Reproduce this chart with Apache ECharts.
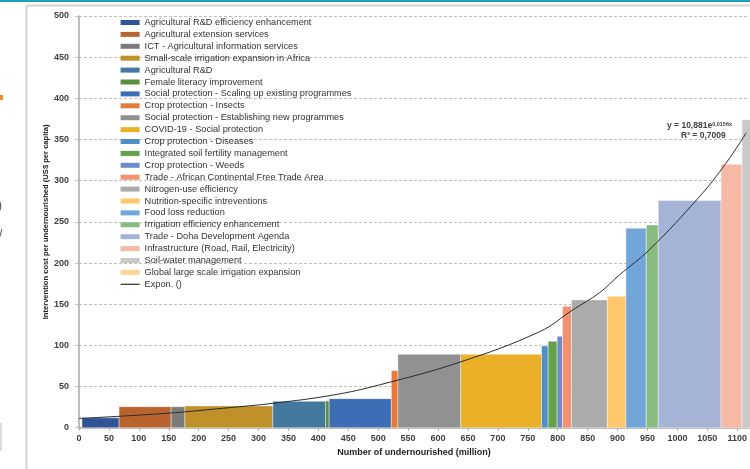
<!DOCTYPE html>
<html>
<head>
<meta charset="utf-8">
<title>Intervention cost per undernourished</title>
<script src="https://cdn.jsdelivr.net/npm/echarts@6/dist/echarts.min.js"></script>
<style>
  html, body { margin: 0; padding: 0; background: #fff; }
  #chart { width: 750px; height: 469px; }
</style>
</head>
<body>
<div id="chart"></div>
<script>
// Interventions, in order of increasing cost per undernourished person
const interventions = [
  'Agricultural R&D efficiency enhancement',
  'Agricultural extension services',
  'ICT - Agricultural information services',
  'Small-scale irrigation expansion in Africa',
  'Agricultural R&D',
  'Female literacy improvement',
  'Social protection - Scaling up existing programmes',
  'Crop protection - Insects',
  'Social protection - Establishing new programmes',
  'COVID-19 - Social protection',
  'Crop protection - Diseases',
  'Integrated soil fertility management',
  'Crop protection - Weeds',
  'Trade - African Continental Free Trade Area',
  'Nitrogen-use efficiency',
  'Nutrition-specific intreventions',
  'Food loss reduction',
  'Irrigation efficiency enhancement',
  'Trade - Doha Development Agenda',
  'Infrastructure (Road, Rail, Electricity)',
  'Soil-water management',
  'Global large scale irrigation expansion'
];

// Cumulative number of undernourished reached (million): bar edges
const boundaries = [5, 67, 154, 177, 324, 412, 418, 522, 533, 638, 773, 784,
                    799, 808, 823, 883, 914, 948, 968, 1073, 1108, 1125];

// Intervention cost per undernourished (US$ per capita)
const costs = [12, 25.5, 25.5, 26.5, 32, 32.5, 35.3, 69.3, 89.2, 89.2, 99.3,
               105, 111, 147.5, 155.2, 159.7, 242.3, 246.3, 275.8, 320, 374];

const barColors = [
  '#2F5597', '#B9632F', '#7B7B7B', '#C0912A', '#43789F', '#5B8F3C',
  '#3D6DB5', '#E47B3A', '#919191', '#EAB027', '#4E8FC6', '#63A14A',
  '#6F8BCB', '#F1936E', '#ABABAB', '#FEC76B', '#72A5D8', '#87BB80',
  '#A5B4D6', '#F6B9A6', '#C9C9C9', '#FFD59A'
];

// Exponential trend line, traced points (million, US$ per capita)
const trendX = [0, 146, 258, 324, 425, 502, 636, 770, 825, 870, 903, 953, 1037, 1081, 1115];
const trendY = [11.2, 17.5, 24.8, 29.6, 39.7, 52, 79.5, 116.7, 143, 164, 185.5, 216, 280.7, 321, 358];

const trendName = 'Expon. ()';

const yTicks = { min: 0, max: 500, step: 50 };
const xTicks = { min: 0, max: 1120, step: 50 };

const textColor = '#404040';
const font = 'Liberation Sans';

function renderBar(params, api) {
  const top = api.coord([api.value(0), api.value(2)]);
  const base = api.coord([api.value(1), 0]);
  return {
    type: 'rect',
    shape: { x: top[0], y: top[1], width: base[0] - top[0], height: base[1] - top[1] },
    style: { fill: api.visual('color'), stroke: 'rgba(255,255,255,0.7)', lineWidth: 0.6 }
  };
}

const series = interventions.map((name, i) => ({
  name: name,
  type: 'custom',
  renderItem: renderBar,
  itemStyle: { color: barColors[i] },
  encode: { x: [0, 1], y: 2 },
  data: i < costs.length ? [[boundaries[i], boundaries[i + 1], costs[i]]] : []
}));

series.push({
  name: trendName,
  type: 'line',
  smooth: 0.4,
  symbol: 'none',
  z: 5,
  lineStyle: { color: '#2B2B2B', width: 1 },
  itemStyle: { color: '#2B2B2B' },
  data: trendX.map((x, i) => [x, trendY[i]])
});

const legendData = interventions.map(n => ({ name: n, icon: 'rect' }));
legendData.push({ name: trendName, itemStyle: { opacity: 0 }, lineStyle: { color: '#2B2B2B', width: 1.2 } });

const chart = echarts.init(document.getElementById('chart'), null, { renderer: 'canvas' });

chart.setOption({
  animation: false,
  backgroundColor: '#fff',
  textStyle: { fontFamily: font },
  grid: { left: 79, right: 0, top: 16, bottom: 41.3 },
  legend: {
    orient: 'vertical',
    left: 120,
    top: 17.5,
    itemWidth: 19,
    itemHeight: 5,
    itemGap: 1.9,
    padding: 0,
    selectedMode: false,
    textStyle: { fontFamily: font, fontSize: 9.2, color: '#333', lineHeight: 10 },
    data: legendData
  },
  xAxis: {
    type: 'value',
    min: xTicks.min,
    max: xTicks.max,
    interval: xTicks.step,
    name: 'Number of undernourished (million)',
    nameLocation: 'middle',
    nameGap: 20,
    nameTextStyle: { fontFamily: font, fontSize: 9, fontWeight: 'bold', color: '#222' },
    axisLine: { show: true, onZero: false, lineStyle: { color: '#A6A6A6', width: 1.5 } },
    axisTick: { show: true, length: 3, lineStyle: { color: '#A6A6A6' } },
    axisLabel: { margin: 6, fontSize: 9, fontWeight: 'bold', color: textColor, showMaxLabel: false,
                 formatter: v => String(v) },
    splitLine: { show: false }
  },
  yAxis: {
    type: 'value',
    min: yTicks.min,
    max: yTicks.max,
    interval: yTicks.step,
    name: 'Intervention cost per undernourished (US$ per capita)',
    nameLocation: 'middle',
    nameGap: 29,
    nameMoveOverlap: false,
    nameTextStyle: { fontFamily: font, fontSize: 7.6, fontWeight: 'bold', color: '#222' },
    axisLine: { show: true, lineStyle: { color: '#A6A6A6', width: 1.5 } },
    axisTick: { show: true, length: 4, lineStyle: { color: '#BFBFBF' } },
    axisLabel: { margin: 10, fontSize: 9, fontWeight: 'bold', color: textColor },
    splitLine: { show: true, lineStyle: { color: '#BFBFBF', type: [3, 2], width: 1 } }
  },
  graphic: [
    // page strip and chart frame
    { type: 'rect', left: 0, top: 0, shape: { width: 750, height: 2 }, style: { fill: '#17A3B3' }, silent: true },
    { type: 'line', shape: { x1: 26.5, y1: 5.5, x2: 750, y2: 5.5 }, style: { stroke: '#D3D3D3', lineWidth: 2 }, silent: true },
    { type: 'line', shape: { x1: 26.5, y1: 5.5, x2: 26.5, y2: 469 }, style: { stroke: '#D3D3D3', lineWidth: 2 }, silent: true },
    // fragments of the neighbouring page column
    { type: 'rect', shape: { x: 0, y: 95, width: 3, height: 5 }, style: { fill: '#F08A2C' }, silent: true },
    { type: 'text', x: -2, y: 200, style: { text: ')', fontSize: 12, fill: '#555', fontFamily: font }, silent: true },
    { type: 'text', x: -1, y: 229, style: { text: '/', fontSize: 12, fill: '#555', fontFamily: font }, silent: true },
    { type: 'line', shape: { x1: 1, y1: 423, x2: 1, y2: 451 }, style: { stroke: '#CFCFCF', lineWidth: 1.5 }, silent: true },
    // trend equation
    {
      type: 'text', x: 667, y: 121, z: 10,
      style: {
        text: '{b|y = 10,881e}{s|0,0156x}',
        rich: {
          b: { fontSize: 8.5, fontWeight: 'bold', fill: textColor, fontFamily: font },
          s: { fontSize: 5.5, fontWeight: 'bold', fill: textColor, fontFamily: font, verticalAlign: 'top', padding: [0, 0, 4, 0] }
        }
      }
    },
    {
      type: 'text', x: 681, y: 131, z: 10,
      style: { text: 'R² = 0,7009', fontSize: 8.5, fontWeight: 'bold', fill: textColor, fontFamily: font }
    }
  ],
  series: series
});
</script>
</body>
</html>
